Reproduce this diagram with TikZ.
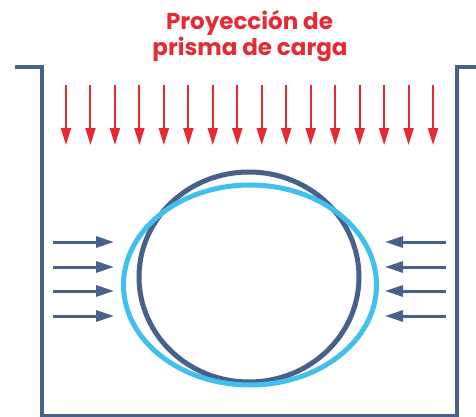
\documentclass[tikz,border=0pt]{standalone}
\usepackage{fontspec}
\newfontfamily\pop{Poppins}
\usetikzlibrary{arrows.meta}
\definecolor{wallblue}{HTML}{48618A}
\definecolor{lightblue}{HTML}{40C0EE}
\definecolor{loadred}{HTML}{E52A34}
\tikzset{
  wall/.style={draw=wallblue, line width=4pt, line join=miter},
  loadarrow/.style={draw=loadred, line width=2pt, -{Triangle[width=10pt,length=17pt]}},
  sidearrow/.style={draw=wallblue, line width=3pt, -{Triangle[width=11pt,length=18pt]}},
  pipe/.style={draw=wallblue, line width=5pt},
  deformed/.style={draw=lightblue, line width=5pt},
  title/.style={text=loadred, font=\pop\bfseries\fontsize{23}{27}\selectfont, align=center, inner sep=0pt}
}
\begin{document}
\begin{tikzpicture}[x=1pt,y=-1pt]
\useasboundingbox (0,0) rectangle (476,417);
% wall
\coordinate (w1) at (15,67.5);
\coordinate (w2) at (41.5,67.5);
\coordinate (w3) at (41.5,415.5);
\coordinate (w4) at (456.7,415.5);
\coordinate (w5) at (456.7,67.5);
\coordinate (w6) at (477,67.5);
\draw[wall] (w1) -- (w2) -- (w3) -- (w4) -- (w5) -- (w6);
% title
\node[title, anchor=base] (t1) at (249.5,29.5) {Proyección de};
\node[title, anchor=base] (t2) at (250,56) {prisma de carga};
% load arrows
\foreach \i in {0,...,15} {
  \coordinate (ls\i) at ({66+\i*24.47},85);
  \coordinate (le\i) at ({66+\i*24.47},145);
  \draw[loadarrow] (ls\i) -- (le\i);
}
% side arrows
\foreach \y [count=\k] in {242,267,291,316} {
  \coordinate (als\k) at (53,\y);
  \coordinate (ale\k) at (114,\y);
  \coordinate (ars\k) at (446,\y);
  \coordinate (are\k) at (385,\y);
  \draw[sidearrow] (als\k) -- (ale\k);
  \draw[sidearrow] (ars\k) -- (are\k);
}
% pipe (original) and deformed pipe
\coordinate (pc) at (249,277);
\coordinate (dc) at (250,285);
\draw[pipe] (pc) ellipse [x radius=110, y radius=105];
\draw[deformed] (dc) ellipse [x radius=126.5, y radius=100];
\end{tikzpicture}
\end{document}
